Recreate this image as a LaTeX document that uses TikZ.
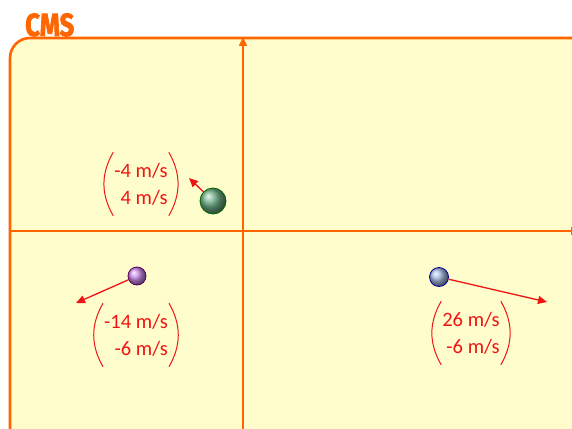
\documentclass[tikz,border=0pt]{standalone}
\usepackage{fontspec}
\setmainfont{Carlito}
\newfontfamily\titlefont{Fira Sans}[BoldFeatures={FakeBold=2.5}]
\usetikzlibrary{arrows.meta,positioning}
\definecolor{frameorange}{RGB}{255,102,0}
\definecolor{paleyellow}{RGB}{255,253,204}
\definecolor{velred}{RGB}{240,20,20}
\definecolor{ballgreen}{RGB}{110,175,135}
\definecolor{ballpurple}{RGB}{205,140,235}
\definecolor{ballblue}{RGB}{165,185,225}
\tikzset{
	axis/.style={line width=1.6pt, draw=frameorange, -{Triangle[length=9pt,width=8pt]}},
	velocity/.style={line width=1.3pt, draw=velred, -{Triangle[length=9pt,width=8pt]}},
	ball/.style={circle, inner sep=0pt, line width=0.8pt},
	veclabel/.style={text=velred, font=\fontsize{20.5}{27}\selectfont, align=right,
		inner xsep=1pt, inner ysep=0pt, minimum height=63pt,
		append after command={
			(\tikzlastnode.north west) edge[bend right=30, velred, line width=1pt] (\tikzlastnode.south west)
			(\tikzlastnode.north east) edge[bend left=30, velred, line width=1pt] (\tikzlastnode.south east)
		}}
}

\begin{document}
\begin{tikzpicture}[x=1pt,y=-1pt]
				\useasboundingbox (0,0) rectangle (572,428);
				\clip (0,0) rectangle (572,428);
				\fill[white] (0,0) rectangle (572,428);
				% frame
				\draw[line width=2.6pt, draw=frameorange, fill=paleyellow, rounded corners=20pt] (10,38) rectangle (620,470);
				\node[text=frameorange, font=\titlefont\bfseries\fontsize{32}{32}\selectfont, inner sep=0pt, anchor=base west] (title) at (25,36) {\scalebox{0.8}[1]{CMS}};
				% axes
				\coordinate (xstart) at (10,231);
				\coordinate (xend) at (580,231);
				\coordinate (ystart) at (243,440);
				\coordinate (yend) at (243,37);
				\draw[axis] (xstart) -- (xend);
				\draw[axis] (ystart) -- (yend);
				% balls
				\node[ball, minimum size=26pt, draw=green!40!black, ball color=ballgreen] (greenball) at (213,201) {};
				\node[ball, minimum size=18pt, draw=violet!70!black, ball color=ballpurple] (purpleball) at (137,276) {};
				\node[ball, minimum size=19pt, draw=blue!60!black, ball color=ballblue] (blueball) at (439,277) {};
				\coordinate (greentip) at (189,178);
				\coordinate (purpletip) at (76,303);
				\coordinate (bluetip) at (547,302);
				\draw[velocity] (greenball) -- (greentip);
				\draw[velocity] (purpleball) -- (purpletip);
				\draw[velocity] (blueball) -- (bluetip);
				% labels
				\node[veclabel] (greenvel) at (141,184) {-4 m/s\\4 m/s};
				\node[veclabel] (purplevel) at (136,335) {-14 m/s\\-6 m/s};
				\node[veclabel] (bluevel) at (471,333) {26 m/s\\-6 m/s};
			\end{tikzpicture}
\end{document}
